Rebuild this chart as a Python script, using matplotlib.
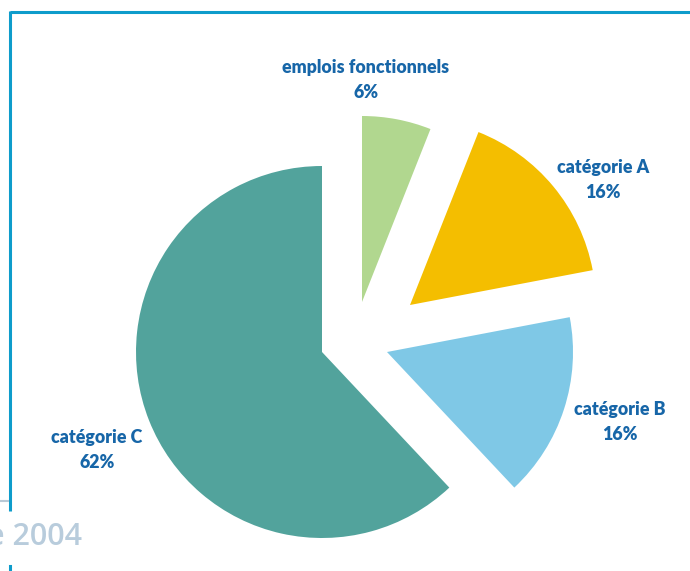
import matplotlib.pyplot as plt

# share of staff by category
labels = ["emplois fonctionnels", "catégorie A", "catégorie B", "catégorie C"]
shares = [6, 16, 16, 62]
colors = ["#B1D78F", "#F4BE00", "#7FC8E6", "#52A39C"]

# how far each wedge is pulled away from the common centre
offsets = [(40, 50), (88, 47), (65, 0), (0, 0)]
label_pos = [(366, 491), (603, 391), (620, 149), (97, 121)]

W, H = 690, 571
CENTER = (322, 219)
RADIUS = 186
TEXT_BLUE = "#1766A8"
FRAME_BLUE = "#0E9CCB"

fig = plt.figure(figsize=(W / 100, H / 100), dpi=100)
ax = fig.add_axes([0, 0, 1, 1])

wedges, _ = ax.pie(shares, colors=colors, startangle=90, counterclock=False,
                   radius=RADIUS, center=CENTER,
                   wedgeprops=dict(linewidth=0, antialiased=True))
for w, (dx, dy) in zip(wedges, offsets):
    w.set_center((CENTER[0] + dx, CENTER[1] + dy))

for name, val, (x, y) in zip(labels, shares, label_pos):
    ax.text(x, y, f"{name}\n{val}%", ha="center", va="center",
            fontsize=12.8, fontweight="heavy", family="Lato",
            color=TEXT_BLUE, linespacing=1.5)

# page frame and footer fragments
ax.plot([9.5, W], [559, 559], color=FRAME_BLUE, lw=2.2, solid_capstyle="butt")
ax.plot([9.5, 9.5], [560, 60], color=FRAME_BLUE, lw=2.2, solid_capstyle="butt")
ax.plot([0, 8], [70, 70], color="#B9C9D6", lw=1.5)
ax.plot([9.5, 9.5], [0, 5], color=FRAME_BLUE, lw=2.2)
ax.text(82, 34, "e 2004", ha="right", va="center", fontsize=22,
        fontweight="semibold", family="Open Sans", color="#B8CCDC")

ax.set_xlim(0, W)
ax.set_ylim(0, H)
ax.set_aspect("auto")
ax.axis("off")

fig.savefig("out.png", dpi=100)
